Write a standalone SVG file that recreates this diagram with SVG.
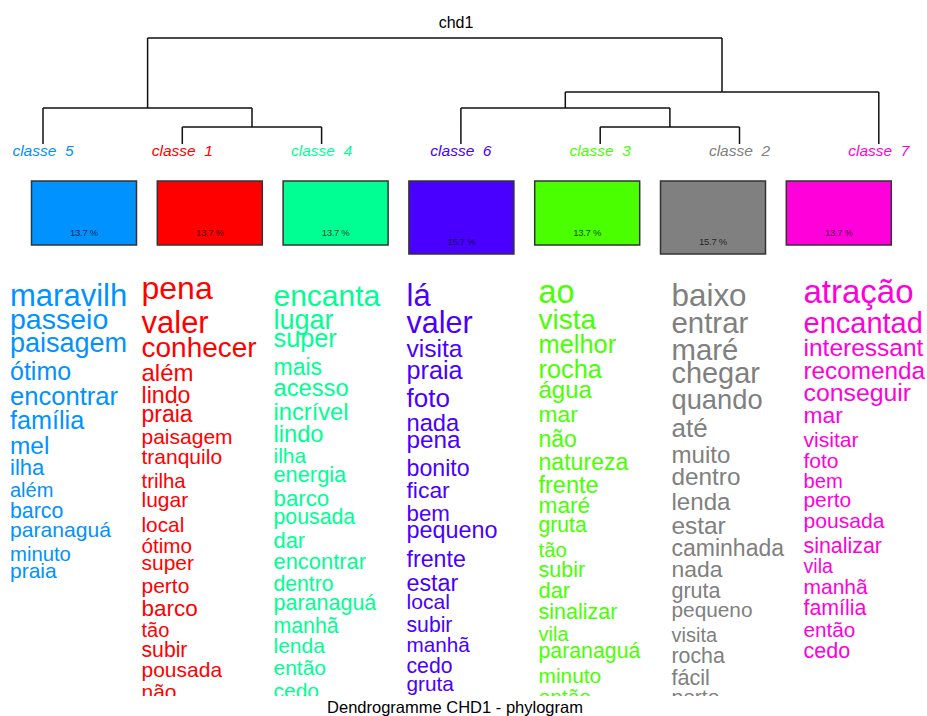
<svg xmlns="http://www.w3.org/2000/svg" width="927" height="716" viewBox="0 0 927 716">
<style>
text{font-family:"Liberation Sans",Arial,sans-serif}
.t{fill:#000}
.lab{font-style:italic;font-size:15.5px;text-anchor:middle}
.box{stroke:#333;stroke-width:1.5}
.pct{font-size:9.5px;text-anchor:middle;fill:#000;fill-opacity:0.75;letter-spacing:-0.3px}
.c5{fill:#0092FF}.c1{fill:#FF0000}.c4{fill:#00FF92}.c6{fill:#4900FF}.c3{fill:#49FF00}.c2{fill:#808080}.c7{fill:#FF00DB}
.tree{fill:none;stroke:#111;stroke-width:1.5}
</style>
<defs>
<clipPath id="k0"><rect x="0" y="270" width="132.4" height="426"/></clipPath>
<clipPath id="k1"><rect x="132.4" y="270" width="132.4" height="426"/></clipPath>
<clipPath id="k2"><rect x="264.8" y="270" width="132.4" height="426"/></clipPath>
<clipPath id="k3"><rect x="397.2" y="270" width="132.4" height="426"/></clipPath>
<clipPath id="k4"><rect x="529.6" y="270" width="132.4" height="426"/></clipPath>
<clipPath id="k5"><rect x="662" y="270" width="132.4" height="426"/></clipPath>
<clipPath id="k6"><rect x="794.4" y="270" width="132.6" height="426"/></clipPath>
</defs>
<rect width="927" height="716" fill="#fff"/>
<text class="t" x="456" y="28" font-size="16" text-anchor="middle">chd1</text>
<g id="connectors">
<path class="tree" d="M147.6,38H722M147.6,38V108M722,38V92M43,108H252M43,108V144M252,108V127M182.3,127H321.6M182.3,127V144M321.6,127V144M565.3,92H878.8M565.3,92V108M878.8,92V144M460.9,108H669.9M460.9,108V144M669.9,108V127M600.2,127H739.5M600.2,127V144M739.5,127V144"/>
</g>
<g id="classe5">
<text class="lab c5" x="43" y="156" xml:space="preserve">classe  5</text>
<rect class="box" x="31.5" y="181" width="105" height="64" fill="#0092FF"/>
<text class="pct" x="84" y="236">13.7 %</text>
<g clip-path="url(#k0)" class="c5">
<text x="10" y="306" font-size="31">maravilh</text>
<text x="10" y="329.3" font-size="28.5">passeio</text>
<text x="10" y="351.7" font-size="27">paisagem</text>
<text x="10" y="380" font-size="25">ótimo</text>
<text x="10" y="405" font-size="25.6">encontrar</text>
<text x="10" y="429.3" font-size="25.2">família</text>
<text x="10" y="454" font-size="24.4">mel</text>
<text x="10" y="475" font-size="22">ilha</text>
<text x="10" y="497.3" font-size="20">além</text>
<text x="10" y="518.3" font-size="21.3">barco</text>
<text x="10" y="536.7" font-size="21.1">paranaguá</text>
<text x="10" y="561" font-size="20.3">minuto</text>
<text x="10" y="578.3" font-size="21">praia</text>
</g>
</g>
<g id="classe1">
<text class="lab c1" x="182.3" y="156" xml:space="preserve">classe  1</text>
<rect class="box" x="157.3" y="181" width="105" height="64" fill="#FF0000"/>
<text class="pct" x="209.8" y="236">13.7 %</text>
<g clip-path="url(#k1)" class="c1">
<text x="141.5" y="299.3" font-size="32">pena</text>
<text x="141.5" y="332.7" font-size="31">valer</text>
<text x="141.5" y="357.3" font-size="28">conhecer</text>
<text x="141.5" y="381" font-size="24">além</text>
<text x="141.5" y="402.7" font-size="23.2">lindo</text>
<text x="141.5" y="421.7" font-size="23">praia</text>
<text x="141.5" y="444" font-size="21">paisagem</text>
<text x="141.5" y="464.3" font-size="21">tranquilo</text>
<text x="141.5" y="488.3" font-size="20.4">trilha</text>
<text x="141.5" y="507.3" font-size="21">lugar</text>
<text x="141.5" y="531.7" font-size="20.8">local</text>
<text x="141.5" y="553.3" font-size="20.7">ótimo</text>
<text x="141.5" y="570" font-size="21">super</text>
<text x="141.5" y="592.7" font-size="21">perto</text>
<text x="141.5" y="615.7" font-size="22.5">barco</text>
<text x="141.5" y="636.7" font-size="20">tão</text>
<text x="141.5" y="657.3" font-size="21.2">subir</text>
<text x="141.5" y="677.3" font-size="21">pousada</text>
<text x="141.5" y="699" font-size="21">não</text>
</g>
</g>
<g id="classe4">
<text class="lab c4" x="321.6" y="156" xml:space="preserve">classe  4</text>
<rect class="box" x="283.1" y="181" width="105" height="64" fill="#00FF92"/>
<text class="pct" x="335.6" y="236">13.7 %</text>
<g clip-path="url(#k2)" class="c4">
<text x="273.5" y="306" font-size="30">encanta</text>
<text x="273.5" y="329.3" font-size="27">lugar</text>
<text x="273.5" y="347.3" font-size="25.3">super</text>
<text x="273.5" y="375" font-size="23">mais</text>
<text x="273.5" y="396" font-size="23.7">acesso</text>
<text x="273.5" y="420" font-size="23.7">incrível</text>
<text x="273.5" y="441.7" font-size="23.7">lindo</text>
<text x="273.5" y="462.7" font-size="21">ilha</text>
<text x="273.5" y="481.7" font-size="21.8">energia</text>
<text x="273.5" y="506" font-size="22.3">barco</text>
<text x="273.5" y="524" font-size="21.3">pousada</text>
<text x="273.5" y="548.3" font-size="21.9">dar</text>
<text x="273.5" y="569" font-size="21.9">encontrar</text>
<text x="273.5" y="590.7" font-size="21.2">dentro</text>
<text x="273.5" y="610" font-size="21.5">paranaguá</text>
<text x="273.5" y="632.7" font-size="21.3">manhã</text>
<text x="273.5" y="653.3" font-size="21">lenda</text>
<text x="273.5" y="675" font-size="21">então</text>
<text x="273.5" y="698" font-size="21">cedo</text>
</g>
</g>
<g id="classe6">
<text class="lab c6" x="460.9" y="156" xml:space="preserve">classe  6</text>
<rect class="box" x="408.9" y="181" width="105" height="73" fill="#4900FF"/>
<text class="pct" x="461.4" y="245">15.7 %</text>
<g clip-path="url(#k3)" class="c6">
<text x="406.5" y="306" font-size="31">lá</text>
<text x="406.5" y="332.7" font-size="30.5">valer</text>
<text x="406.5" y="357.3" font-size="24.6">visita</text>
<text x="406.5" y="379.3" font-size="25.2">praia</text>
<text x="406.5" y="406.7" font-size="26">foto</text>
<text x="406.5" y="431" font-size="23.7">nada</text>
<text x="406.5" y="448.3" font-size="24.3">pena</text>
<text x="406.5" y="476" font-size="23.2">bonito</text>
<text x="406.5" y="497.7" font-size="22.9">ficar</text>
<text x="406.5" y="520.7" font-size="22.3">bem</text>
<text x="406.5" y="537.7" font-size="23.4">pequeno</text>
<text x="406.5" y="566.7" font-size="23.2">frente</text>
<text x="406.5" y="590.7" font-size="23.3">estar</text>
<text x="406.5" y="609.3" font-size="21.1">local</text>
<text x="406.5" y="631.7" font-size="21.2">subir</text>
<text x="406.5" y="651.7" font-size="20.7">manhã</text>
<text x="406.5" y="673.3" font-size="21.2">cedo</text>
<text x="406.5" y="690.7" font-size="20.8">gruta</text>
</g>
</g>
<g id="classe3">
<text class="lab c3" x="600.2" y="156" xml:space="preserve">classe  3</text>
<rect class="box" x="534.7" y="181" width="105" height="64" fill="#49FF00"/>
<text class="pct" x="587.2" y="236">13.7 %</text>
<g clip-path="url(#k4)" class="c3">
<text x="538.5" y="302.7" font-size="32.4">ao</text>
<text x="538.5" y="329.3" font-size="28">vista</text>
<text x="538.5" y="353.3" font-size="25.4">melhor</text>
<text x="538.5" y="378.3" font-size="25.3">rocha</text>
<text x="538.5" y="398.3" font-size="24">água</text>
<text x="538.5" y="421.7" font-size="22.8">mar</text>
<text x="538.5" y="446.7" font-size="23">não</text>
<text x="538.5" y="470" font-size="23.1">natureza</text>
<text x="538.5" y="492.7" font-size="23.5">frente</text>
<text x="538.5" y="512.7" font-size="22.7">maré</text>
<text x="538.5" y="531.7" font-size="21.2">gruta</text>
<text x="538.5" y="556.7" font-size="20.4">tão</text>
<text x="538.5" y="576.7" font-size="21.5">subir</text>
<text x="538.5" y="598.3" font-size="21.9">dar</text>
<text x="538.5" y="619.3" font-size="21.5">sinalizar</text>
<text x="538.5" y="640.7" font-size="20">vila</text>
<text x="538.5" y="658.3" font-size="21.3">paranaguá</text>
<text x="538.5" y="683.3" font-size="20.9">minuto</text>
<text x="538.5" y="704" font-size="21">então</text>
</g>
</g>
<g id="classe2">
<text class="lab c2" x="739.5" y="156" xml:space="preserve">classe  2</text>
<rect class="box" x="660.5" y="181" width="105" height="73" fill="#808080"/>
<text class="pct" x="713" y="245">15.7 %</text>
<g clip-path="url(#k5)" class="c2">
<text x="671.5" y="306" font-size="31.4">baixo</text>
<text x="671.5" y="333.3" font-size="29.4">entrar</text>
<text x="671.5" y="360" font-size="29.3">maré</text>
<text x="671.5" y="383.3" font-size="28.9">chegar</text>
<text x="671.5" y="409.3" font-size="27.3">quando</text>
<text x="671.5" y="436.7" font-size="26">até</text>
<text x="671.5" y="463.3" font-size="24.1">muito</text>
<text x="671.5" y="485" font-size="24.3">dentro</text>
<text x="671.5" y="510" font-size="24.1">lenda</text>
<text x="671.5" y="534" font-size="24.4">estar</text>
<text x="671.5" y="556" font-size="23">caminhada</text>
<text x="671.5" y="576.7" font-size="22.9">nada</text>
<text x="671.5" y="598.3" font-size="21.5">gruta</text>
<text x="671.5" y="616.7" font-size="20.8">pequeno</text>
<text x="671.5" y="641.7" font-size="20">visita</text>
<text x="671.5" y="663.3" font-size="21.3">rocha</text>
<text x="671.5" y="685" font-size="21.6">fácil</text>
<text x="671.5" y="704" font-size="21">perto</text>
</g>
</g>
<g id="classe7">
<text class="lab c7" x="878.8" y="156" xml:space="preserve">classe  7</text>
<rect class="box" x="786.3" y="181" width="105" height="64" fill="#FF00DB"/>
<text class="pct" x="838.8" y="236">13.7 %</text>
<g clip-path="url(#k6)" class="c7">
<text x="803.5" y="302.7" font-size="33">atração</text>
<text x="803.5" y="332.7" font-size="29">encantad</text>
<text x="803.5" y="356" font-size="24.5">interessant</text>
<text x="803.5" y="379.3" font-size="24.3">recomenda</text>
<text x="803.5" y="400.7" font-size="24.8">conseguir</text>
<text x="803.5" y="423.3" font-size="22.8">mar</text>
<text x="803.5" y="446.7" font-size="21.1">visitar</text>
<text x="803.5" y="467.7" font-size="21">foto</text>
<text x="803.5" y="488.3" font-size="20.2">bem</text>
<text x="803.5" y="507.3" font-size="20.9">perto</text>
<text x="803.5" y="528.3" font-size="21.1">pousada</text>
<text x="803.5" y="552.7" font-size="21.4">sinalizar</text>
<text x="803.5" y="573.3" font-size="19.6">vila</text>
<text x="803.5" y="594" font-size="21">manhã</text>
<text x="803.5" y="615" font-size="21.3">família</text>
<text x="803.5" y="636.7" font-size="20.7">então</text>
<text x="803.5" y="658.3" font-size="21.5">cedo</text>
</g>
</g>
<text class="t" x="455" y="713" font-size="16.5" text-anchor="middle">Dendrogramme CHD1 - phylogram</text>
</svg>
